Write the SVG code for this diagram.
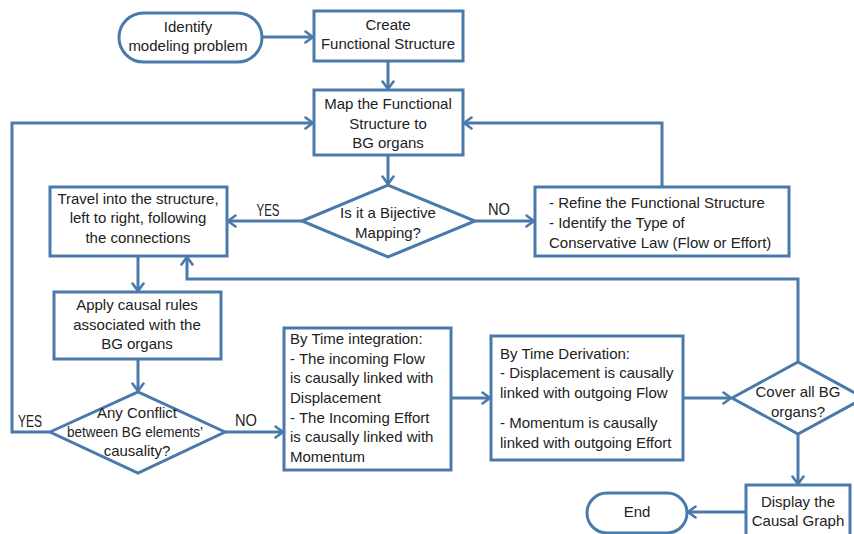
<svg xmlns="http://www.w3.org/2000/svg" width="854" height="534" viewBox="0 0 854 534">
<defs>
<marker id="arr" markerUnits="userSpaceOnUse" viewBox="0 0 10 14" refX="9" refY="7" markerWidth="10" markerHeight="14" orient="auto">
<path d="M1.5,1.5 L9,7 L1.5,12.5" fill="none" stroke="#4a7aab" stroke-width="2.6" stroke-linecap="round" stroke-linejoin="round"/>
</marker>
<style>
.n{fill:#ffffff;stroke:#4a7aab;stroke-width:3}
.c{fill:none;stroke:#4a7aab;stroke-width:3;marker-end:url(#arr)}
text{font-family:"Liberation Sans",Arial,sans-serif;font-size:15px;fill:#222222}
.m{text-anchor:middle}
.lb{font-size:16px}
</style>
</defs>
<rect width="854" height="534" fill="#ffffff"/>
<g id="connectors">
<path class="c" d="M262,37 H313"/>
<path class="c" d="M388,61 V89"/>
<path class="c" d="M388,155 V184"/>
<path class="c" d="M302,221 H228"/>
<path class="c" d="M475,221 H534"/>
<path class="c" d="M662,187 V123 H464"/>
<path class="c" d="M138,256 V291"/>
<path class="c" d="M138,359 V391"/>
<path class="c" d="M50,432 H12 V123 H313"/>
<path class="c" d="M225,432 H283"/>
<path class="c" d="M451,398 H490"/>
<path class="c" d="M683,398 H731"/>
<path class="c" d="M798,362 V279 H187 V257"/>
<path class="c" d="M798,434 V484"/>
<path class="c" d="M746,512 H688"/>
<text x="268" y="216" class="m lb" textLength="23" lengthAdjust="spacingAndGlyphs">YES</text>
<text x="499" y="215" class="m lb" textLength="22" lengthAdjust="spacingAndGlyphs">NO</text>
<text x="30" y="427" class="m lb" textLength="24" lengthAdjust="spacingAndGlyphs">YES</text>
<text x="246" y="426" class="m lb" textLength="22" lengthAdjust="spacingAndGlyphs">NO</text>
</g>
<g id="identify">
<rect class="n" x="119" y="13" width="143" height="49" rx="24.5"/>
<text x="188" y="32" class="m">Identify</text>
<text x="188" y="51" class="m">modeling problem</text>
</g>
<g id="create">
<rect class="n" x="314" y="11" width="149" height="50"/>
<text x="388" y="30" class="m">Create</text>
<text x="388" y="49" class="m">Functional Structure</text>
</g>
<g id="map">
<rect class="n" x="314" y="90" width="149" height="65"/>
<text x="388" y="109" class="m">Map the Functional</text>
<text x="388" y="129" class="m">Structure to</text>
<text x="388" y="148" class="m">BG organs</text>
</g>
<g id="bijective">
<polygon class="n" points="302,221 388,185 475,221 388,257"/>
<text x="388" y="218" class="m">Is it a Bijective</text>
<text x="388" y="238" class="m">Mapping?</text>
</g>
<g id="refine">
<rect class="n" x="535" y="187" width="254" height="69"/>
<text x="549" y="208">- Refine the Functional Structure</text>
<text x="549" y="228">- Identify the Type of</text>
<text x="549" y="248">Conservative Law (Flow or Effort)</text>
</g>
<g id="travel">
<rect class="n" x="50" y="187" width="177" height="69"/>
<text x="138" y="204" class="m">Travel into the structure,</text>
<text x="138" y="223" class="m">left to right, following</text>
<text x="138" y="243" class="m">the connections</text>
</g>
<g id="apply">
<rect class="n" x="54" y="292" width="167" height="67"/>
<text x="137" y="310" class="m">Apply causal rules</text>
<text x="137" y="330" class="m">associated with the</text>
<text x="137" y="349" class="m">BG organs</text>
</g>
<g id="conflict">
<polygon class="n" points="50,432 138,392 225,432 138,473"/>
<text x="137" y="418" class="m">Any Conflict</text>
<text x="135" y="437" class="m" textLength="136" lengthAdjust="spacingAndGlyphs">between BG elements’</text>
<text x="137" y="456" class="m">causality?</text>
</g>
<g id="integration">
<rect class="n" x="284" y="328" width="167" height="142"/>
<text x="290" y="344">By Time integration:</text>
<text x="290" y="364">- The incoming Flow</text>
<text x="290" y="383">is causally linked with</text>
<text x="290" y="403">Displacement</text>
<text x="290" y="423">- The Incoming Effort</text>
<text x="290" y="442">is causally linked with</text>
<text x="290" y="462">Momentum</text>
</g>
<g id="derivation">
<rect class="n" x="491" y="336" width="192" height="124"/>
<text x="500" y="359">By Time Derivation:</text>
<text x="500" y="378">- Displacement is causally</text>
<text x="500" y="398">linked with outgoing Flow</text>
<text x="500" y="428">- Momentum is causally</text>
<text x="500" y="448">linked with outgoing Effort</text>
</g>
<g id="cover">
<polygon class="n" points="732,398 798,362 864,398 798,434"/>
<text x="798" y="397" class="m">Cover all BG</text>
<text x="798" y="417" class="m">organs?</text>
</g>
<g id="display">
<rect class="n" x="746" y="485" width="104" height="60"/>
<text x="798" y="507" class="m">Display the</text>
<text x="798" y="526" class="m">Causal Graph</text>
</g>
<g id="end">
<rect class="n" x="587" y="493" width="100" height="40" rx="20"/>
<text x="637" y="517" class="m">End</text>
</g>
</svg>
